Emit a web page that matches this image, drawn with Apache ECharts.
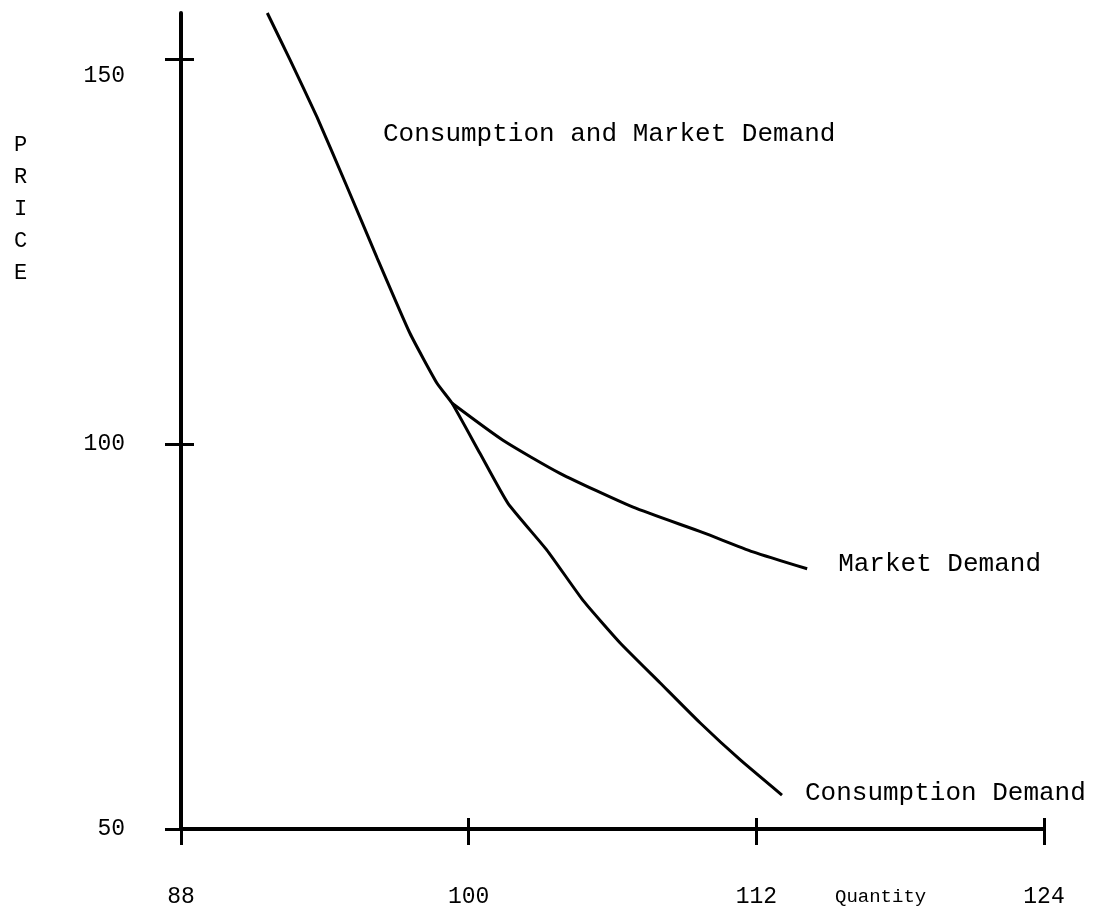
<!DOCTYPE html>
<html>

<head>
    <title>Consumption and Market Demand</title>
    <meta charset="utf-8">
    <script src="https://cdn.jsdelivr.net/npm/echarts@6/dist/echarts.min.js"></script>
    <style>
        html, body { margin: 0; padding: 0; background: #fff; }
    </style>
</head>

<body>
    <!-- chart container -->
    <div id="main" style="width: 1094px;height:920px;"></div>

    <script type="text/javascript">
        // tick labels
        var quantityTicks = [88, 100, 112, 124];
        var priceTicks = [50, 100, 150];

        // consumption demand curve (quantity, price)
        var consumptionQty = [91.6, 92.55, 93.67, 94.93, 96.18, 97.55, 98.68, 99.31, 100.47, 101.64, 103.27, 104.77, 106.31, 107.98, 109.65, 111.32, 113.07];
        var consumptionPrice = [156.0, 149.9, 142.5, 133.4, 124.2, 114.4, 107.9, 105.3, 98.8, 92.3, 86.2, 79.7, 74.2, 69.0, 63.8, 59.0, 54.4];

        // market demand curve, branches off the consumption curve
        var marketQty = [99.31, 101.43, 103.81, 106.86, 109.78, 111.86, 114.12];
        var marketPrice = [105.3, 100.5, 96.2, 91.8, 88.5, 86.0, 83.8];

        function pairs(xs, ys) {
            var out = [];
            for (var i = 0; i < xs.length; i++) {
                out.push([xs[i], ys[i]]);
            }
            return out;
        }

        var ink = '#000';
        var mono = 'Liberation Mono';

        var myChart = echarts.init(document.getElementById('main'));

        var option = {
            backgroundColor: '#fff',
            animation: false,
            title: [{
                text: 'Consumption and Market Demand',
                left: 378,
                top: 116,
                textStyle: { fontFamily: mono, fontWeight: 'normal', fontSize: 26, color: ink }
            }, {
                text: 'P\nR\nI\nC\nE',
                left: 9,
                top: 124,
                textStyle: { fontFamily: mono, fontWeight: 'normal', fontSize: 22, lineHeight: 32, color: ink }
            }],
            graphic: [{
                type: 'text',
                left: 835,
                top: 887,
                style: { text: 'Quantity', font: '19px "Liberation Mono"', fill: ink }
            }],
            grid: {
                left: 181,
                right: 50,
                top: 13,
                bottom: 91
            },
            xAxis: [{
                type: 'value',
                min: 88,
                max: 124,
                splitLine: { show: false },
                axisLine: { show: true, lineStyle: { color: ink, width: 4 } },
                axisTick: { show: true, length: 16, lineStyle: { color: ink, width: 3 }, customValues: quantityTicks },
                axisLabel: {
                    margin: 56,
                    customValues: quantityTicks,
                    fontFamily: mono,
                    fontSize: 23,
                    color: ink
                }
            }, {
                // second copy only for the part of the ticks above the line
                type: 'value',
                min: 88,
                max: 124,
                position: 'bottom',
                splitLine: { show: false },
                axisLine: { show: false },
                axisTick: { show: true, inside: true, length: 11, lineStyle: { color: ink, width: 3 }, customValues: quantityTicks },
                axisLabel: { show: false }
            }],
            yAxis: [{
                type: 'value',
                min: 50,
                max: 156,
                splitLine: { show: false },
                axisLine: { show: true, lineStyle: { color: ink, width: 4 } },
                axisTick: { show: true, length: 16, lineStyle: { color: ink, width: 3 }, customValues: priceTicks },
                axisLabel: {
                    margin: 56,
                    customValues: priceTicks,
                    formatter: function(v) {
                        return v === 150 ? '{lo|150}' : '{n|' + v + '}';
                    },
                    rich: {
                        n: { fontFamily: mono, fontSize: 23, color: ink },
                        lo: { fontFamily: mono, fontSize: 23, color: ink, padding: [34, 0, 0, 0] }
                    }
                }
            }, {
                type: 'value',
                min: 50,
                max: 156,
                position: 'left',
                splitLine: { show: false },
                axisLine: { show: false },
                axisTick: { show: true, inside: true, length: 13, lineStyle: { color: ink, width: 3 }, customValues: priceTicks },
                axisLabel: { show: false }
            }],
            series: [{
                name: 'Consumption Demand',
                type: 'line',
                smooth: 0.15,
                symbol: 'none',
                clip: false,
                lineStyle: { color: ink, width: 3 },
                endLabel: {
                    show: true,
                    formatter: 'Consumption Demand',
                    distance: 23,
                    offset: [0, -2],
                    fontFamily: mono,
                    fontSize: 26,
                    color: ink
                },
                data: pairs(consumptionQty, consumptionPrice)
            }, {
                name: 'Market Demand',
                type: 'line',
                smooth: 0.2,
                symbol: 'none',
                clip: false,
                lineStyle: { color: ink, width: 3 },
                endLabel: {
                    show: true,
                    formatter: 'Market Demand',
                    distance: 31,
                    offset: [0, -5],
                    fontFamily: mono,
                    fontSize: 26,
                    color: ink
                },
                data: pairs(marketQty, marketPrice)
            }]
        };

        myChart.setOption(option);
    </script>
</body>

</html>
